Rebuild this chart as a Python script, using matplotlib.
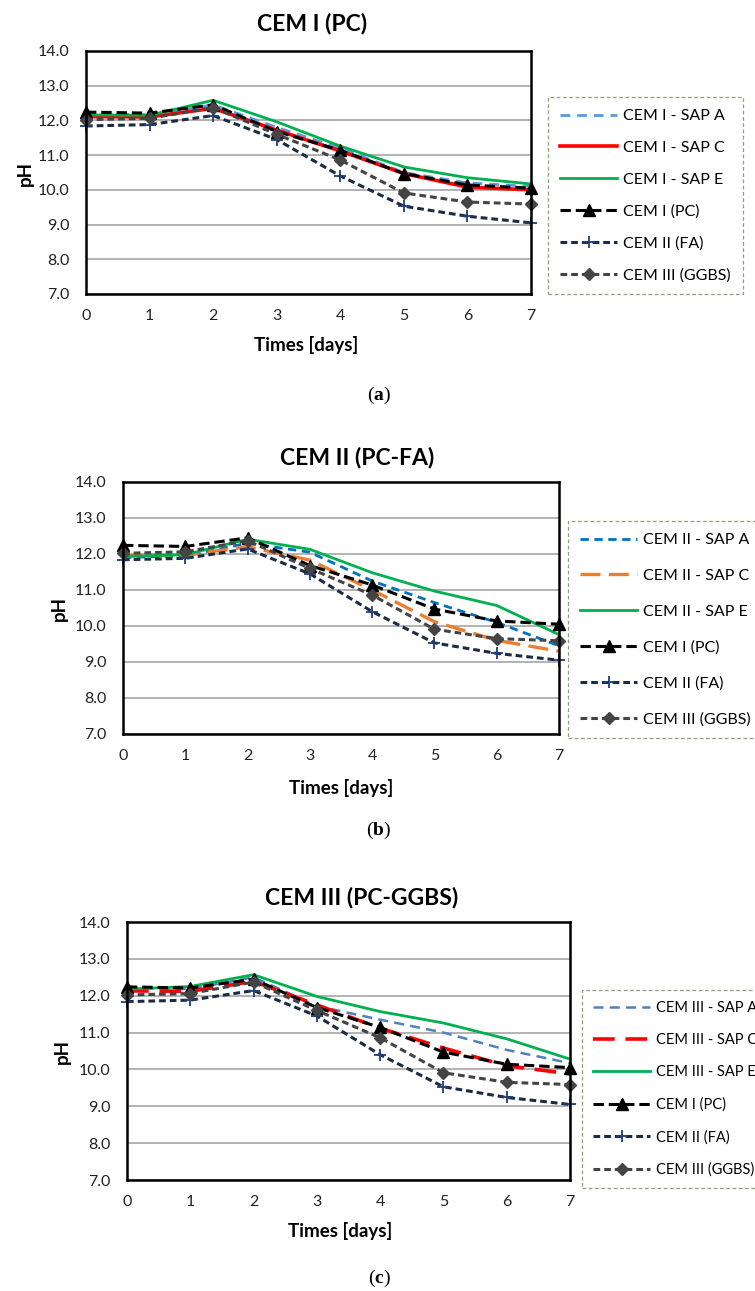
import matplotlib
matplotlib.use('Agg')
import matplotlib.pyplot as plt

plt.rcParams['font.family'] = ['Lato', 'DejaVu Sans']
plt.rcParams['mathtext.fontset'] = 'custom'
plt.rcParams['mathtext.bf'] = 'Liberation Serif:bold'

days = [0, 1, 2, 3, 4, 5, 6, 7]
y_ticks = [7.0, 8.0, 9.0, 10.0, 11.0, 12.0, 13.0, 14.0]

# reference mixes (same in all three panels)
ref_pc = [12.24, 12.21, 12.45, 11.68, 11.14, 10.47, 10.14, 10.05]
ref_fa = [11.84, 11.88, 12.14, 11.45, 10.40, 9.53, 9.24, 9.05]
ref_ggbs = [12.02, 12.06, 12.37, 11.60, 10.86, 9.91, 9.65, 9.59]

# CEM I with SAP
cem1_sap_a = [12.20, 12.16, 12.45, 11.80, 11.20, 10.50, 10.20, 10.10]
cem1_sap_c = [12.11, 12.10, 12.35, 11.72, 11.12, 10.47, 10.08, 10.00]
cem1_sap_e = [12.16, 12.15, 12.58, 11.96, 11.26, 10.66, 10.35, 10.17]

# CEM II with SAP
cem2_sap_a = [11.90, 11.95, 12.30, 12.05, 11.25, 10.65, 10.10, 9.45]
cem2_sap_c = [11.95, 11.97, 12.20, 11.83, 11.00, 10.12, 9.60, 9.30]
cem2_sap_e = [11.93, 11.98, 12.41, 12.13, 11.48, 10.97, 10.57, 9.76]

# CEM III with SAP
cem3_sap_a = [12.20, 12.18, 12.50, 11.72, 11.35, 11.00, 10.53, 10.17]
cem3_sap_c = [12.13, 12.12, 12.39, 11.75, 11.12, 10.58, 10.10, 9.88]
cem3_sap_e = [12.18, 12.25, 12.57, 11.98, 11.57, 11.26, 10.83, 10.28]

W, H = 755, 1291
fig = plt.figure(figsize=(W / 100, H / 100), dpi=100)


def box(l, t, r, b):
    return [l / W, 1 - b / H, (r - l) / W, (b - t) / H]


def panel(rect, title, title_xy, xlab_xy, ylab_xy, cap, cap_y, leg_xy, leg_sp, leg_fs,
          sap, sap_names, sap_styles):
    ax = fig.add_axes(box(*rect))
    for vals, name, st in zip(sap, sap_names, sap_styles):
        ax.plot(days, vals, label=name, **st)
    ax.plot(days, ref_pc, color='black', lw=2.2, dashes=(3.4, 1.6), marker='^',
            ms=8.5, label='CEM I (PC)')
    ax.plot(days, ref_fa, color='#1c2b45', lw=2.2, dashes=(2.2, 1.3), marker='+',
            ms=8, mew=1.3, mec='#1f3d7a', label='CEM II (FA)')
    ax.plot(days, ref_ggbs, color='#444444', lw=2.2, dashes=(2.2, 1.3), marker='D',
            ms=6.5, label='CEM III (GGBS)')

    ax.set_xlim(0, 7)
    ax.set_ylim(7, 14)
    ax.set_xticks(days)
    ax.set_yticks(y_ticks)
    ax.set_yticklabels(['%.1f' % v for v in y_ticks])
    ax.tick_params(length=0, labelsize=11.5, pad=12, colors='#222222')
    ax.tick_params(axis='x', pad=11)
    ax.grid(axis='y', color='#a6a6a6', lw=1.2)
    ax.set_axisbelow(True)
    for s in ax.spines.values():
        s.set_linewidth(1.8)
        s.set_color('black')
    for ln in ax.lines:
        ln.set_clip_on(False)

    fig.text(title_xy[0] / W, 1 - title_xy[1] / H, title, ha='center', va='center',
             fontsize=16.5, fontweight='bold')
    fig.text(xlab_xy[0] / W, 1 - xlab_xy[1] / H, 'Times [days]', ha='center', va='center',
             fontsize=13.5, fontweight='bold')
    fig.text(ylab_xy[0] / W, 1 - ylab_xy[1] / H, 'pH', ha='center', va='center',
             fontsize=13.5, fontweight='bold', rotation=90)
    fig.text(379 / W, 1 - cap_y / H, '(' + r'$\mathbf{' + cap + '}$' + ')', ha='center',
             va='center', fontsize=14, family='Liberation Serif')

    leg = fig.legend(handles=ax.lines, loc='upper left',
                     bbox_to_anchor=(leg_xy[0] / W, 1 - leg_xy[1] / H),
                     frameon=True, fancybox=False, fontsize=leg_fs, numpoints=1,
                     handlelength=3.6 * 11.5 / leg_fs, handletextpad=0.35,
                     labelspacing=leg_sp, borderpad=0.75, borderaxespad=0)
    fr = leg.get_frame()
    fr.set_edgecolor('#6f8a5a')
    fr.set_linestyle((0, (3, 2)))
    fr.set_linewidth(0.9)
    return ax


panel((86, 51, 531, 294), 'CEM I (PC)', (312, 24), (306, 345), (25, 173), 'a', 395,
      (548, 97), 1.1, 11.5, [cem1_sap_a, cem1_sap_c, cem1_sap_e],
      ['CEM I - SAP A', 'CEM I - SAP C', 'CEM I - SAP E'],
      [dict(color='#5b9bd5', lw=2, dashes=(3.5, 2.5)),
       dict(color='#ff0000', lw=2.6),
       dict(color='#00b050', lw=2)])

panel((123, 482, 559, 734), 'CEM II (PC-FA)', (357, 457), (341, 788), (59, 608), 'b', 830,
      (568, 521), 1.35, 11.5, [cem2_sap_a, cem2_sap_c, cem2_sap_e],
      ['CEM II - SAP A', 'CEM II - SAP C', 'CEM II - SAP E'],
      [dict(color='#0070c0', lw=2, dashes=(3, 2)),
       dict(color='#ed7d31', lw=2.4, dashes=(6, 2.5)),
       dict(color='#00b050', lw=2)])

panel((127, 922, 570, 1180), 'CEM III (PC-GGBS)', (362, 897), (340, 1231), (62, 1052), 'c', 1278,
      (582, 990), 1.25, 10.5, [cem3_sap_a, cem3_sap_c, cem3_sap_e],
      ['CEM III - SAP A', 'CEM III - SAP C', 'CEM III - SAP E'],
      [dict(color='#4f81bd', lw=1.8, dashes=(4, 2.5)),
       dict(color='#ff0000', lw=2.6, dashes=(6, 3)),
       dict(color='#00b050', lw=2)])

fig.savefig('out.png', dpi=100)
